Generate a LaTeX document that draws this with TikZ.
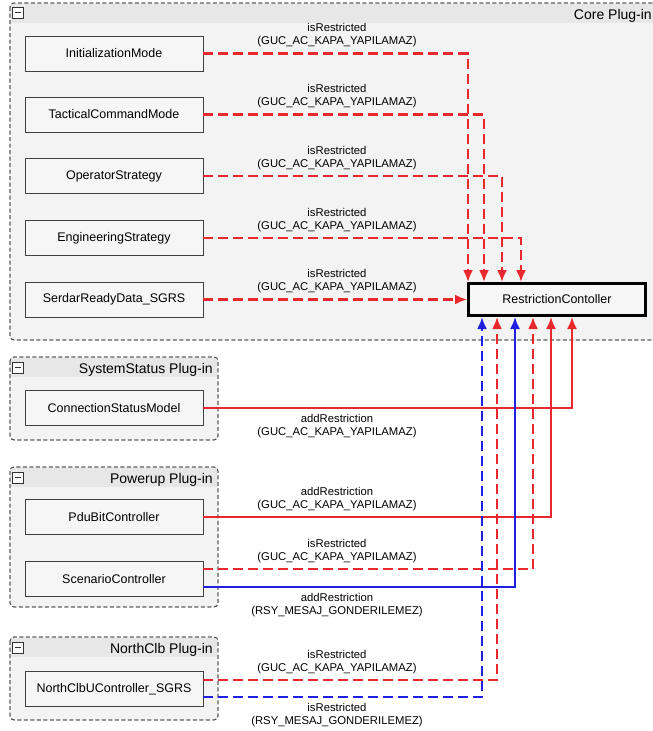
\documentclass[tikz,border=0pt]{standalone}
\usepackage{fontspec}
\setmainfont{Liberation Sans}
\usetikzlibrary{arrows.meta,calc}
\definecolor{linkred}{RGB}{232,40,44}
\definecolor{linkblue}{RGB}{32,32,225}
\definecolor{plugbg}{RGB}{243,243,243}
\definecolor{plughead}{RGB}{231,231,231}
\definecolor{boxbg}{RGB}{246,246,246}
\begin{document}
\begin{tikzpicture}[x=1pt, y=-1pt,
  comp/.style={draw=black!75, fill=boxbg, line width=0.8pt, minimum width=178pt, minimum height=35pt, inner sep=0pt, font=\fontsize{12.5}{14}\selectfont},
  ctrl/.style={comp, draw=black, line width=2.6pt, minimum width=177.4pt, minimum height=32.4pt},
  plugin/.style={draw=black!70, fill=plugbg, dash pattern=on 4pt off 2.5pt, rounded corners=4pt, line width=0.8pt},
  phead/.style={fill=plughead},
  ptitle/.style={anchor=base east, inner sep=0pt, font=\fontsize{14}{16}\selectfont},
  minus/.style={draw=black!80, fill=white, minimum size=11pt, inner sep=0pt, line width=0.7pt,
    path picture={\draw[line width=1.6pt] ([xshift=2.5pt]path picture bounding box.west) -- ([xshift=-2.5pt]path picture bounding box.east);}},
  lbl/.style={align=center, inner sep=0pt, font=\fontsize{11.3}{13}\selectfont},
  restr/.style={linkred, line width=2.2pt, dash pattern=on 10pt off 5pt, -{Latex[length=12pt,width=10pt]}},
  restrblue/.style={restr, linkblue},
  addred/.style={linkred, line width=1.8pt, -{Latex[length=12pt,width=10pt]}},
  addblue/.style={addred, linkblue}]

  \useasboundingbox (0,0) rectangle (653,731);
  \clip (0,0) rectangle (653,731);

  % Plug-in frames
  \draw[plugin] (10,3) rectangle (662,340);
  \fill[phead] (11,4) rectangle (661,23);
  \draw[plugin, fill=none] (10,3) rectangle (662,340);
  \node[minus] (m1) at (18,12.5) {};
  \node[ptitle] (t1) at (652,19) {Core Plug-in};

  \draw[plugin] (10,357) rectangle (218,440);
  \fill[phead] (11,358) rectangle (217,377);
  \draw[plugin, fill=none] (10,357) rectangle (218,440);
  \node[minus] (m2) at (18,367.5) {};
  \node[ptitle] (t2) at (213,373) {SystemStatus Plug-in};

  \draw[plugin] (10,467) rectangle (218,607);
  \fill[phead] (11,468) rectangle (217,487);
  \draw[plugin, fill=none] (10,467) rectangle (218,607);
  \node[minus] (m3) at (18,477.5) {};
  \node[ptitle] (t3) at (213,483) {Powerup Plug-in};

  \draw[plugin] (10,637) rectangle (218,720);
  \fill[phead] (11,638) rectangle (217,657);
  \draw[plugin, fill=none] (10,637) rectangle (218,720);
  \node[minus] (m4) at (18,647.5) {};
  \node[ptitle] (t4) at (213,653) {NorthClb Plug-in};

  % Components
  \node[comp] (A) at (114,53.5) {InitializationMode};
  \node[comp] (B) at (114,114.5) {TacticalCommandMode};
  \node[comp] (C) at (114,176) {OperatorStrategy};
  \node[comp] (D) at (114,238) {EngineeringStrategy};
  \node[comp] (E) at (114,299.5) {SerdarReadyData\_SGRS};
  \node[ctrl] (R) at (557,299.5) {RestrictionContoller};
  \node[comp] (F) at (114,408) {ConnectionStatusModel};
  \node[comp] (G) at (114,517) {PduBitController};
  \node[comp] (H) at (114,579) {ScenarioController};
  \node[comp] (I) at (114,689) {NorthClbUController\_SGRS};

  % Links into the controller
  \draw[restr] (A.east) -| ($(R.north west)+(1,0)$);
  \draw[restr] (B.east) -| ($(R.north west)+(17,0)$);
  \draw[restr] (C.east) -| ($(R.north west)+(35,0)$);
  \draw[restr] (D.east) -| ($(R.north west)+(54,0)$);
  \draw[restr] (E.east) -- (R.west);
  \draw[addred] (F.east) -| ($(R.south west)+(105,0)$);
  \draw[addred] (G.east) -| ($(R.south west)+(84,0)$);
  \draw[restr] ($(H.east)+(0,-10)$) -| ($(R.south west)+(66,0)$);
  \draw[addblue] ($(H.east)+(0,8)$) -| ($(R.south west)+(48,0)$);
  \draw[restr] ($(I.east)+(0,-9)$) -| ($(R.south west)+(30,0)$);
  \draw[restrblue] ($(I.east)+(0,8)$) -| ($(R.south west)+(15,0)$);

  % Link labels
  \node[lbl, anchor=south] (l1) at (337,47) {isRestricted\\(GUC\_AC\_KAPA\_YAPILAMAZ)};
  \node[lbl, anchor=south] (l2) at (337,108) {isRestricted\\(GUC\_AC\_KAPA\_YAPILAMAZ)};
  \node[lbl, anchor=south] (l3) at (337,170) {isRestricted\\(GUC\_AC\_KAPA\_YAPILAMAZ)};
  \node[lbl, anchor=south] (l4) at (337,232) {isRestricted\\(GUC\_AC\_KAPA\_YAPILAMAZ)};
  \node[lbl, anchor=south] (l5) at (337,293) {isRestricted\\(GUC\_AC\_KAPA\_YAPILAMAZ)};
  \node[lbl, anchor=north] (l6) at (337,414) {addRestriction\\(GUC\_AC\_KAPA\_YAPILAMAZ)};
  \node[lbl, anchor=south] (l7) at (337,511) {addRestriction\\(GUC\_AC\_KAPA\_YAPILAMAZ)};
  \node[lbl, anchor=south] (l8) at (337,563) {isRestricted\\(GUC\_AC\_KAPA\_YAPILAMAZ)};
  \node[lbl, anchor=north] (l9) at (337,593) {addRestriction\\(RSY\_MESAJ\_GONDERILEMEZ)};
  \node[lbl, anchor=south] (l10) at (337,674) {isRestricted\\(GUC\_AC\_KAPA\_YAPILAMAZ)};
  \node[lbl, anchor=north] (l11) at (337,703) {isRestricted\\(RSY\_MESAJ\_GONDERILEMEZ)};

\end{tikzpicture}
\end{document}
